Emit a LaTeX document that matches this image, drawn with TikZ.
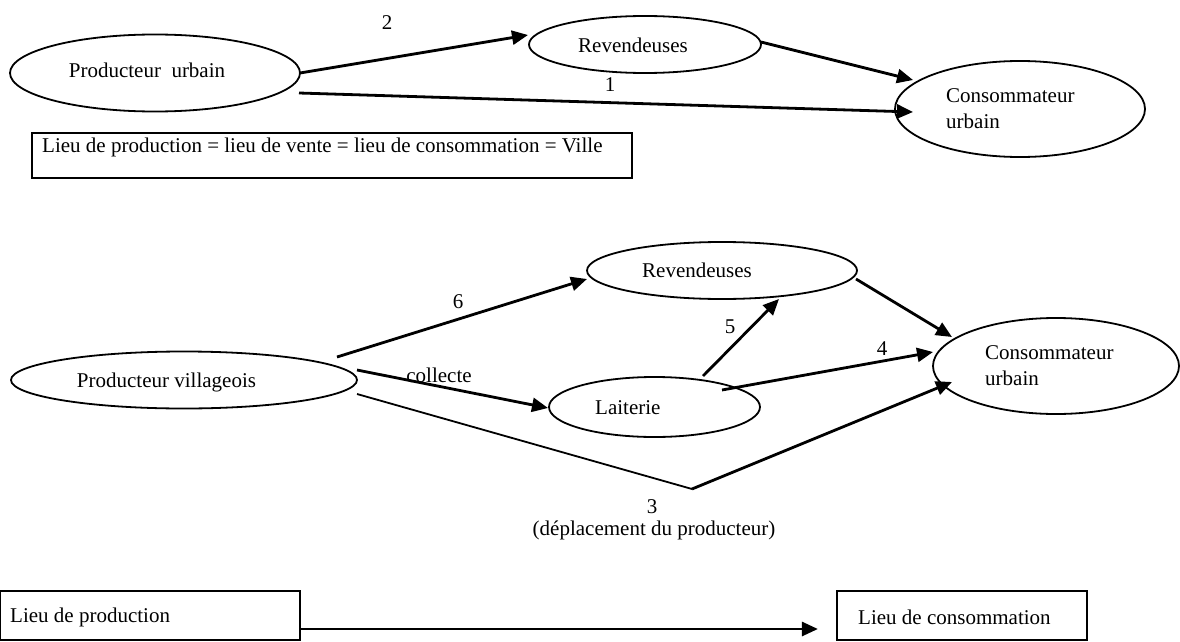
\documentclass[tikz,border=0pt]{standalone}
\usepackage{fontspec}
\setmainfont{Liberation Serif}
\usetikzlibrary{arrows.meta,calc,shapes.geometric}
\begin{document}
\begin{tikzpicture}[x=1pt,y=-1pt,
  font=\fontsize{21}{26}\selectfont,
  ell/.style={draw, ellipse, line width=1.8pt, inner sep=0pt},
  boxr/.style={draw, rectangle, line width=2.2pt, inner sep=0pt},
  txt/.style={inner sep=0pt},
  arr/.style={line width=2.8pt, -{Triangle[length=16pt,width=14pt]}},
  plain/.style={line width=1.8pt}]
\useasboundingbox (0,0) rectangle (1180,642);

% ---------- top section ----------
\node[ell, minimum width=290pt, minimum height=77pt] (pu) at (155,73) {};
\node[txt] at (147,70) {Producteur\ \ urbain};
\node[ell, minimum width=232pt, minimum height=57pt] (rev1) at (645,44.5) {};
\node[txt] at (633,45) {Revendeuses};
\node[ell, minimum width=250pt, minimum height=96pt] (cu1) at (1020,109) {};
\node[txt, anchor=west, align=left] at (946,109) {Consommateur\\urbain};
\node[boxr, minimum width=600pt, minimum height=45pt] (box1) at (332,155.5) {};
\node[txt, anchor=west] at (42,147) {Lieu de production = lieu de vente = lieu de consommation = Ville};

\draw[arr] ($(pu)+(145,0)$) -- ($(rev1)+(-117,-9.5)$);
\draw[arr] ($(pu)+(144,20)$) -- ($(cu1)+(-107,3)$);
\draw[arr] ($(rev1)+(116,-2.5)$) -- ($(cu1)+(-107,-29)$);
\node[txt] at (387,23) {2};
\node[txt] at (610,85) {1};

% ---------- middle section ----------
\node[ell, minimum width=346pt, minimum height=57pt] (pv) at (184,380) {};
\node[txt] at (166.5,382) {Producteur villageois};
\node[ell, minimum width=270pt, minimum height=57pt] (rev2) at (722,270.5) {};
\node[txt] at (697,270) {Revendeuses};
\node[ell, minimum width=211pt, minimum height=60pt] (lait) at (654.5,407) {};
\node[txt, anchor=west] at (595,408) {Laiterie};
\node[ell, minimum width=246pt, minimum height=96pt] (cu2) at (1056,366) {};
\node[txt, anchor=west, align=left] at (985,365.5) {Consommateur\\urbain};
\coordinate (v3) at (692,489);

\draw[arr] ($(pv)+(153,-23)$) -- ($(rev2)+(-135,8.5)$);
\draw[arr] ($(pv)+(173,-10)$) -- ($(lait)+(-106.5,1)$);
\draw[plain] ($(pv)+(173,14)$) -- (v3);
\draw[arr] (v3) -- ($(cu2)+(-104,16)$);
\draw[arr] ($(lait)+(48.5,-31)$) -- ($(rev2)+(57,28.5)$);
\draw[arr] ($(lait)+(67.5,-17)$) -- ($(cu2)+(-123,-14)$);
\draw[arr] ($(rev2)+(134,8.5)$) -- ($(cu2)+(-104,-29)$);

\node[txt] at (458,302) {6};
\node[txt] at (439,375) {collecte};
\node[txt] at (730,327) {5};
\node[txt] at (882,349) {4};
\node[txt] at (652,507) {3};
\node[txt] at (654,530) {(déplacement du producteur)};

% ---------- bottom section ----------
\node[boxr, minimum width=300pt, minimum height=49pt] (boxl) at (150,615.5) {};
\node[txt, anchor=west] at (10,617) {Lieu de production};
\node[boxr, minimum width=250pt, minimum height=49pt] (boxrr) at (962,615.5) {};
\node[txt, anchor=west] at (858,617) {Lieu de consommation};
\draw[arr] ($(boxl.east)+(0,13.5)$) -- ($(boxrr.west)+(-18,13.5)$);
\end{tikzpicture}
\end{document}
